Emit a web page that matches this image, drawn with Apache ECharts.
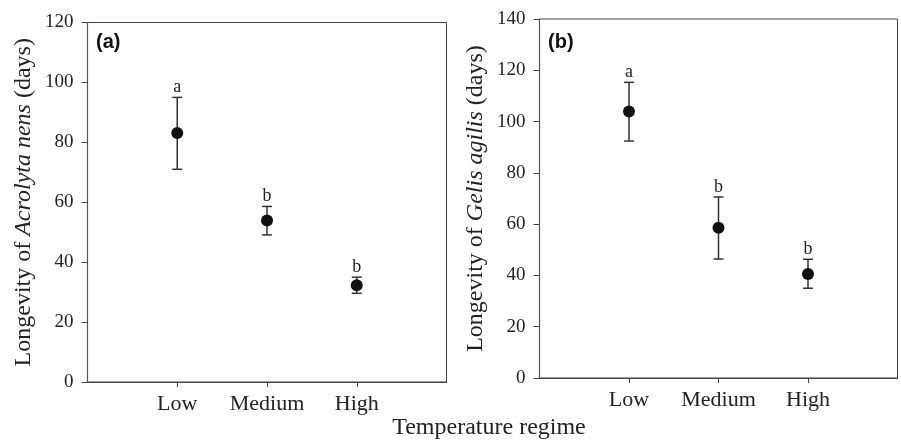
<!DOCTYPE html>
<html>
<head>
<meta charset="utf-8">
<script src="https://cdn.jsdelivr.net/npm/echarts@6/dist/echarts.min.js"></script>
<style>
  html, body { margin: 0; padding: 0; background: #fff; }
  #chart { width: 901px; height: 441px; }
</style>
</head>
<body>
<div id="chart"></div>
<script>
const categories = ["Low", "Medium", "High"];

// panel (a) Acrolyta nens
const acrolytaMean = [83.1, 53.9, 32.3];
const acrolytaUpper = [95.0, 58.6, 35.0];
const acrolytaLower = [71.0, 49.1, 29.6];
const acrolytaLetters = ["a", "b", "b"];

// panel (b) Gelis agilis
const gelisMean = [103.9, 58.6, 40.6];
const gelisUpper = [115.3, 70.6, 46.3];
const gelisLower = [92.4, 46.4, 35.0];
const gelisLetters = ["a", "b", "b"];

const serif = "Liberation Serif";
const chart = echarts.init(document.getElementById("chart"));

function xAxisFor(gridIndex) {
  return {
    type: "value",
    gridIndex,
    min: 0,
    max: 4,
    interval: 1,
    splitLine: { show: false },
    axisLine: { lineStyle: { color: "#444", width: 1.2 } },
    axisTick: { customValues: [1, 2, 3], length: 5, lineStyle: { color: "#444" } },
    axisLabel: {
      customValues: [1, 2, 3],
      formatter: (v) => categories[v - 1] || "",
      fontFamily: serif,
      fontSize: 22,
      color: "#222",
      margin: 11,
    },
  };
}

function yAxisFor(gridIndex, max, title, species) {
  return {
    type: "value",
    gridIndex,
    min: 0,
    max,
    interval: 20,
    splitLine: { show: false },
    axisLine: { show: true, lineStyle: { color: "#555", width: 1.2 } },
    axisTick: { show: true, length: 6, lineStyle: { color: "#444" } },
    axisLabel: { fontFamily: serif, fontSize: 19, color: "#222", margin: 14 },
    name: "{n|" + title + "}{i|" + species + "}{n| (days)}",
    nameLocation: "middle",
    nameGap: 52,
    nameTextStyle: {
      rich: {
        n: { fontFamily: serif, fontSize: 24, color: "#222" },
        i: { fontFamily: serif, fontSize: 24, fontStyle: "italic", color: "#222" },
      },
    },
  };
}

function errorSeries(idx, lower, upper, letters) {
  return {
    type: "custom",
    xAxisIndex: idx,
    yAxisIndex: idx,
    silent: true,
    z: 2,
    data: categories.map((c, i) => [i + 1, lower[i], upper[i]]),
    renderItem: (params, api) => {
      const lo = api.coord([api.value(0), api.value(1)]);
      const hi = api.coord([api.value(0), api.value(2)]);
      const cap = 5;
      const style = { stroke: "#333", lineWidth: 1.5 };
      return {
        type: "group",
        children: [
          { type: "line", shape: { x1: lo[0], y1: lo[1], x2: hi[0], y2: hi[1] }, style },
          { type: "line", shape: { x1: lo[0] - cap, y1: lo[1], x2: lo[0] + cap, y2: lo[1] }, style },
          { type: "line", shape: { x1: hi[0] - cap, y1: hi[1], x2: hi[0] + cap, y2: hi[1] }, style },
          {
            type: "text",
            x: hi[0],
            y: hi[1] - 1,
            style: {
              text: letters[params.dataIndex],
              fontFamily: serif,
              fontSize: 18,
              fill: "#222",
              textAlign: "center",
              textVerticalAlign: "bottom",
            },
          },
        ],
      };
    },
  };
}

function meanSeries(idx, mean) {
  return {
    type: "scatter",
    xAxisIndex: idx,
    yAxisIndex: idx,
    symbol: "circle",
    symbolSize: 12,
    z: 3,
    itemStyle: { color: "#111", opacity: 1 },
    data: mean.map((v, i) => [i + 1, v]),
  };
}

chart.setOption({
  animation: false,
  grid: [
    { left: 87.5, top: 22.5, width: 359, height: 359.5, show: true, borderColor: "#444", borderWidth: 1 },
    { left: 539.5, top: 19, width: 358, height: 359, show: true, borderColor: "#444", borderWidth: 1 },
  ],
  xAxis: [xAxisFor(0), xAxisFor(1)],
  yAxis: [
    yAxisFor(0, 120, "Longevity of ", "Acrolyta nens"),
    yAxisFor(1, 140, "Longevity of ", "Gelis agilis"),
  ],
  series: [
    errorSeries(0, acrolytaLower, acrolytaUpper, acrolytaLetters),
    meanSeries(0, acrolytaMean),
    errorSeries(1, gelisLower, gelisUpper, gelisLetters),
    meanSeries(1, gelisMean),
  ],
  graphic: [
    {
      type: "text",
      left: 96,
      top: 32,
      style: { text: "(a)", fontFamily: "Liberation Sans", fontWeight: "bold", fontSize: 20, fill: "#111" },
    },
    {
      type: "text",
      left: 548,
      top: 32,
      style: { text: "(b)", fontFamily: "Liberation Sans", fontWeight: "bold", fontSize: 20, fill: "#111" },
    },
    {
      type: "text",
      x: 489,
      y: 428,
      style: {
        text: "Temperature regime",
        fontFamily: serif,
        fontSize: 24,
        fill: "#222",
        textAlign: "center",
        textVerticalAlign: "middle",
      },
    },
  ],
});
</script>
</body>
</html>
